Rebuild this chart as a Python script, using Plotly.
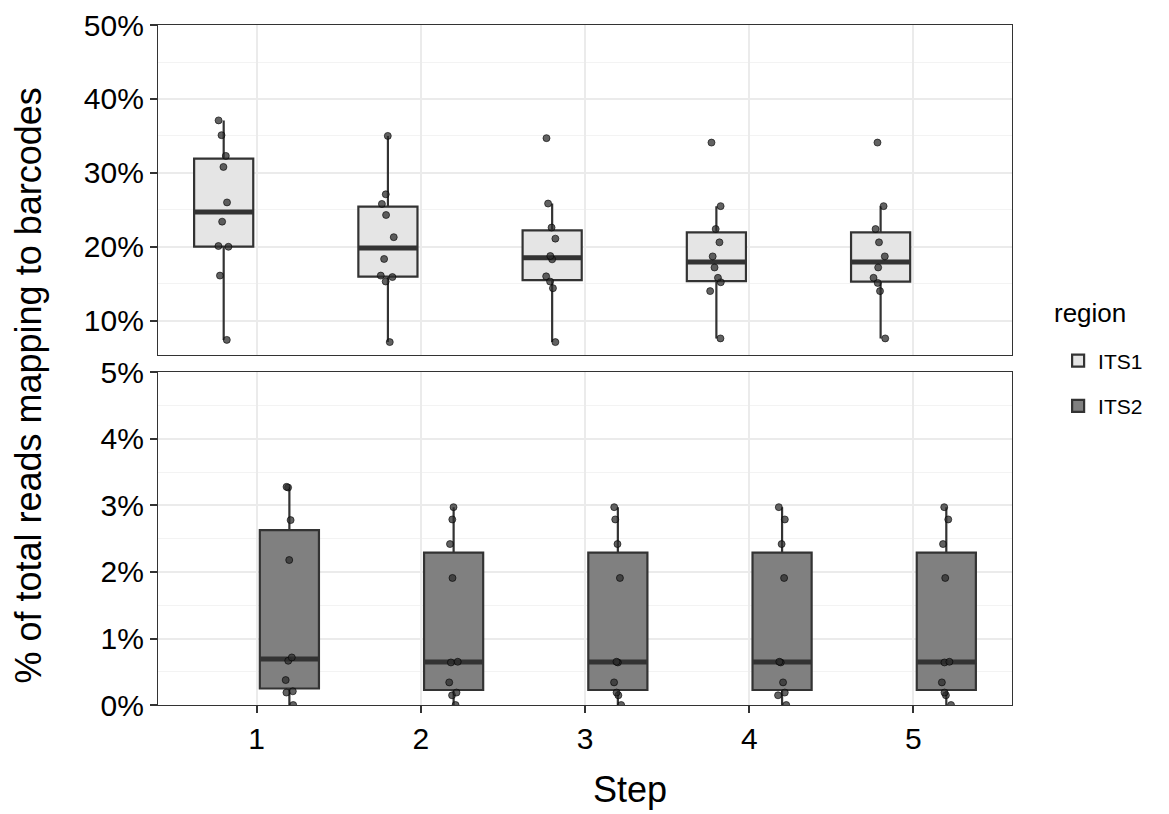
import numpy as np
import plotly.graph_objects as go

# values (percent of total reads mapping to barcodes)
steps = [1, 2, 3, 4, 5]
regions = ["ITS1", "ITS2"]

its1_values = [
    [37.1, 35.1, 32.3, 30.8, 26.0, 23.4, 20.1, 20.0, 16.1, 7.4],
    [35.0, 27.1, 25.8, 24.3, 21.3, 18.35, 16.1, 15.9, 15.3, 7.1],
    [34.7, 25.85, 22.6, 21.1, 18.75, 18.3, 16.0, 15.3, 14.4, 7.1],
    [34.1, 25.5, 22.4, 20.6, 18.7, 17.2, 15.8, 15.2, 14.0, 7.6],
    [34.1, 25.5, 22.4, 20.6, 18.7, 17.2, 15.8, 15.1, 14.0, 7.6],
]
its2_values = [
    [3.28, 3.27, 2.78, 2.18, 0.715, 0.665, 0.375, 0.206, 0.187, 0.0],
    [2.975, 2.79, 2.42, 1.91, 0.65, 0.64, 0.34, 0.187, 0.146, 0.0],
    [2.975, 2.79, 2.42, 1.91, 0.65, 0.64, 0.34, 0.187, 0.146, 0.0],
    [2.975, 2.79, 2.42, 1.91, 0.65, 0.64, 0.34, 0.187, 0.146, 0.0],
    [2.975, 2.79, 2.42, 1.91, 0.65, 0.64, 0.34, 0.187, 0.146, 0.0],
]

top_ticks = [10, 20, 30, 40, 50]
bottom_ticks = [0, 1, 2, 3, 4, 5]

FONT = "Liberation Sans, Arial, Helvetica, sans-serif"
LINE = "#333333"
fills = {"ITS1": "#E5E5E5", "ITS2": "#808080"}
dodge = {"ITS1": -0.2, "ITS2": 0.2}
axes = {"ITS1": ("x", "y"), "ITS2": ("x2", "y2")}
BOXW = 0.36


def box_stats(vals):
    # ggplot-style (type 7 quantiles, 1.5 IQR whiskers)
    v = np.asarray(vals, dtype=float)
    q1, med, q3 = np.percentile(v, [25, 50, 75])
    iqr = q3 - q1
    lo = v[v >= q1 - 1.5 * iqr].min()
    hi = v[v <= q3 + 1.5 * iqr].max()
    return q1, med, q3, lo, hi


fig = go.Figure()

for region, data in zip(regions, [its1_values, its2_values]):
    xa, ya = axes[region]
    pos = [s + dodge[region] for s in steps]
    stats = [box_stats(v) for v in data]
    q1 = [s[0] for s in stats]
    med = [s[1] for s in stats]
    q3 = [s[2] for s in stats]
    lo = [s[3] for s in stats]
    hi = [s[4] for s in stats]

    # box + whiskers
    fig.add_trace(go.Box(
        x=pos, q1=q1, median=med, q3=q3, lowerfence=lo, upperfence=hi,
        width=BOXW, whiskerwidth=0, fillcolor=fills[region],
        line=dict(color=LINE, width=2.2), name=region, legendgroup=region,
        xaxis=xa, yaxis=ya, hoverinfo="skip",
    ))
    # thicker median bar
    fig.add_trace(go.Box(
        x=pos, q1=med, median=med, q3=med, lowerfence=med, upperfence=med,
        width=BOXW, whiskerwidth=0, fillcolor="rgba(0,0,0,0)",
        line=dict(color=LINE, width=5), showlegend=False, legendgroup=region,
        xaxis=xa, yaxis=ya, hoverinfo="skip",
    ))
    # jittered points
    px, py = [], []
    for p, v in zip(pos, data):
        px += [p] * len(v)
        py += v
    fig.add_trace(go.Box(
        x=px, y=py, boxpoints="all", jitter=0.25, pointpos=0, width=BOXW,
        fillcolor="rgba(0,0,0,0)", line=dict(color="rgba(0,0,0,0)"),
        marker=dict(color="rgba(45,45,45,0.75)", size=7,
                    line=dict(color="rgba(0,0,0,0.6)", width=1)),
        showlegend=False, legendgroup=region, xaxis=xa, yaxis=ya,
    ))

grid = dict(showgrid=True, gridcolor="#EBEBEB", gridwidth=1.6,
            showline=True, linecolor=LINE, linewidth=1.2, mirror=True,
            zeroline=False, automargin=False, ticklabeloverflow="allow")
tickfont = dict(family=FONT, size=30, color="black")

# the page body adds 8px, so the figure is 8px smaller and shifted back
fig.update_layout(
    width=1161, height=806,
    plot_bgcolor="white", paper_bgcolor="white",
    margin=dict(l=150, r=157, t=17, b=109),
    boxmode="overlay",
    font=dict(family=FONT, color="black"),
    xaxis=dict(domain=[0, 1], range=[0.4, 5.6], anchor="y", tickvals=steps,
               showticklabels=False, ticks="", **grid),
    yaxis=dict(domain=[0.514, 1], range=[5.29, 50.01], tickmode="array",
               tickvals=top_ticks, ticktext=[f"{t}%" for t in top_ticks],
               ticks="outside", ticklen=7, tickwidth=2,
               tickcolor=LINE, tickfont=tickfont,
               minor=dict(dtick=5, tick0=0, showgrid=True, gridcolor="#F3F3F3",
                          gridwidth=1, ticks=""), **grid),
    xaxis2=dict(domain=[0, 1], range=[0.4, 5.6], anchor="y2", tickvals=steps,
                ticks="outside", ticklen=7, tickwidth=2, tickcolor=LINE,
                tickfont=tickfont, **grid),
    yaxis2=dict(domain=[0, 0.489], range=[0, 5], tickmode="array",
                tickvals=bottom_ticks, ticktext=[f"{t}%" for t in bottom_ticks],
                ticks="outside", ticklen=7, tickwidth=2,
                tickcolor=LINE, tickfont=tickfont,
                minor=dict(dtick=0.5, tick0=0, showgrid=True, gridcolor="#F3F3F3",
                           gridwidth=1, ticks=""), **grid),
    legend=dict(font=dict(size=21, family=FONT), x=1.054, xanchor="left",
                y=0.536, yanchor="top", tracegroupgap=15, bgcolor="rgba(0,0,0,0)"),
    annotations=[
        dict(text="% of total reads mapping to barcodes", textangle=-90,
             xref="paper", yref="paper", x=-0.152, y=0.47,
             xanchor="center", yanchor="middle", showarrow=False,
             font=dict(size=36, family=FONT, color="black")),
        dict(text="Step", xref="paper", yref="paper", x=0.553, y=-0.124,
             xanchor="center", yanchor="middle", showarrow=False,
             font=dict(size=36, family=FONT, color="black")),
        dict(text="region", xref="paper", yref="paper", x=1.047, y=0.576,
             xanchor="left", yanchor="middle", showarrow=False,
             font=dict(size=26, family=FONT, color="black")),
    ],
)

fig.write_html("out.html")
